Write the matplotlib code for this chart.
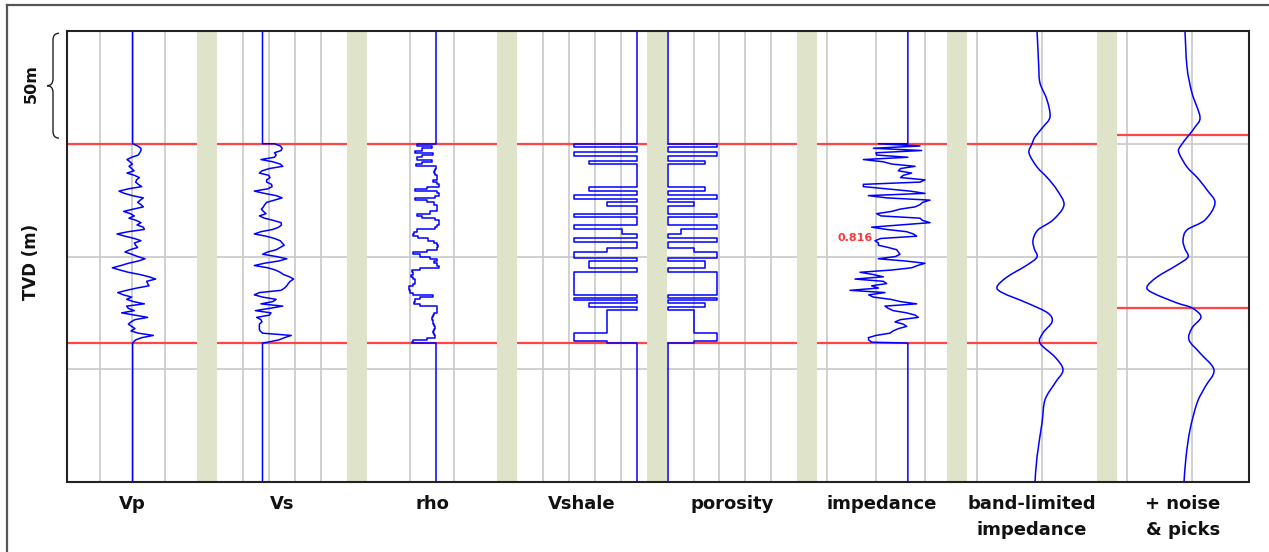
import matplotlib
matplotlib.use("Agg")
import matplotlib.pyplot as plt
import numpy as np
from matplotlib.patches import Rectangle, PathPatch
from matplotlib.path import Path
from matplotlib.lines import Line2D
import matplotlib.transforms as mtransforms

# ---- data ----
zone_top = 50.0
zone_base = 138.4
zone_depth = np.arange(50, 139, 1.0)   # 1 m samples in the reservoir zone

vp_base = 3010
vp = [3010, 3087, 3138, 3138, 3118, 3097, 2995, 2923, 2969, 3005,
      2954, 2995, 3031, 2923, 3036, 3113, 3072, 3056, 3097, 3149,
      2944, 2800, 2882, 3005, 3174, 3128, 3087, 3138, 3174, 3020,
      2872, 2974, 3036, 2954, 3067, 3138, 3077, 3174, 3190, 2944,
      2769, 2892, 3036, 3138, 3036, 3056, 3087, 2969, 2892, 2995,
      3087, 3200, 3097, 2944, 2831, 2697, 2815, 2944, 3123, 3262,
      3364, 3226, 3241, 3262, 3072, 2918, 2780, 2867, 2995, 2918,
      3020, 3190, 2918, 2944, 3036, 2841, 3046, 3241, 3046, 2985,
      2944, 2995, 3046, 2985, 3097, 3328, 3149, 3056, 3020]

vs_base = 1350
vs = [1442, 1488, 1501, 1493, 1442, 1455, 1442, 1338, 1429, 1486,
      1506, 1403, 1346, 1326, 1398, 1408, 1382, 1382, 1419, 1424,
      1390, 1287, 1364, 1455, 1501, 1442, 1382, 1367, 1357, 1341,
      1357, 1377, 1326, 1364, 1434, 1493, 1496, 1475, 1429, 1338,
      1287, 1377, 1442, 1486, 1501, 1517, 1486, 1455, 1390, 1351,
      1455, 1537, 1475, 1364, 1287, 1390, 1450, 1486, 1512, 1558,
      1589, 1563, 1548, 1537, 1519, 1493, 1326, 1287, 1351, 1455,
      1429, 1338, 1506, 1403, 1295, 1416, 1403, 1305, 1338, 1346,
      1326, 1326, 1326, 1331, 1351, 1571, 1519, 1475, 1390]

rho_base = 2.32
rho = [2.229, 2.298, 2.252, 2.221, 2.306, 2.252, 2.229, 2.298, 2.252, 2.226,
       2.318, 2.315, 2.309, 2.314, 2.325, 2.322, 2.306, 2.322, 2.334, 2.275,
       2.221, 2.322, 2.334, 2.314, 2.221, 2.275, 2.309, 2.322, 2.322, 2.322,
       2.291, 2.229, 2.252, 2.314, 2.334, 2.334, 2.325, 2.314, 2.229, 2.217,
       2.214, 2.237, 2.283, 2.309, 2.322, 2.329, 2.322, 2.275, 2.214, 2.245,
       2.291, 2.322, 2.309, 2.322, 2.334, 2.245, 2.206, 2.214, 2.202, 2.211,
       2.221, 2.221, 2.211, 2.195, 2.192, 2.198, 2.211, 2.306, 2.245, 2.221,
       2.217, 2.245, 2.322, 2.325, 2.322, 2.309, 2.303, 2.298, 2.303, 2.306,
       2.309, 2.314, 2.309, 2.306, 2.311, 2.314, 2.275, 2.214, 2.206]

# blocky layers for Vshale / porosity
layer_tops = [50.0, 51.5, 53.5, 55.5, 57.5, 59.0, 69.0, 70.8, 72.9, 74.5,
              76.0, 77.5, 81.0, 82.6, 86.0, 88.0, 90.0, 91.9, 93.5, 96.4,
              98.0, 100.8, 102.0, 105.2, 106.7, 117.1, 118.5, 119.5, 120.5,
              122.2, 123.7, 133.8, 137.3]
vsh_base = 0.92
vshale = [0.44, 0.92, 0.44, 0.92, 0.55, 0.92, 0.55, 0.92, 0.44, 0.92,
          0.69, 0.92, 0.44, 0.92, 0.44, 0.81, 0.92, 0.44, 0.92, 0.69,
          0.44, 0.92, 0.55, 0.92, 0.44, 0.92, 0.44, 0.92, 0.55,
          0.92, 0.69, 0.44, 0.69]
phi_base = 0.0
porosity = [0.19, 0.0, 0.19, 0.0, 0.145, 0.0, 0.145, 0.0, 0.19, 0.0,
            0.10, 0.0, 0.19, 0.0, 0.19, 0.05, 0.0, 0.19, 0.0, 0.10,
            0.19, 0.0, 0.145, 0.0, 0.19, 0.0, 0.19, 0.0, 0.145,
            0.0, 0.10, 0.19, 0.10]

imp_base = 7300
impedance = [6100, 7796, 5891, 7864, 6000, 6027, 7300, 5483, 6300, 6639,
             7592, 7000, 6912, 7456, 7116, 7000, 8000, 7800, 5483, 5483,
             6435, 7388, 8000, 5687, 6435, 8204, 7900, 7796, 7592, 6980,
             6639, 6027, 6200, 7796, 7900, 8204, 7000, 5823, 6435, 7252,
             7524, 7660, 6200, 5959, 6095, 6100, 6500, 6844, 6912, 6980,
             6800, 6095, 7200, 8000, 7700, 7456, 6639, 5347, 5891, 6299,
             5143, 6300, 6435, 5823, 6100, 4939, 6367, 5700, 5891, 6600,
             7000, 7660, 6367, 6500, 6700, 7252, 7600, 7728, 7000, 6776,
             7116, 7252, 6912, 6700, 6571, 6000, 5687, 5700, 5823]

bl_depth = [0, 8.4, 16, 23.1, 30.6, 38.1, 42.6, 47.0, 50.1, 54.1, 60.3, 65,
            70.5, 77.2, 83.8, 88.2, 92.7, 96.5, 100.2, 103.8, 109.1, 113.5,
            116.2, 120.6, 125.1, 129.0, 133.9, 138.4, 144.6, 150.3, 156.1,
            163.6, 173.8, 188.9, 200]
bl_imp = [6923, 6938, 6950, 6969, 7077, 7123, 7015, 6892, 6846, 6800, 6923,
          7080, 7231, 7338, 7169, 6938, 6862, 6880, 6923, 6769, 6462, 6308,
          6400, 6769, 7092, 7154, 7015, 6969, 7200, 7323, 7200, 7046, 7000,
          6923, 6892]

nz_depth = [0, 16, 27.5, 38.1, 42.6, 46.1, 51.4, 54.1, 60.3, 65, 70.5, 76.3,
            83.8, 88.2, 92.7, 96.5, 100.2, 103.8, 109.1, 113.5, 116.2, 120.6,
            122.8, 126.8, 131.7, 137, 142.8, 150.3, 157.9, 165, 176.9, 188.9, 200]
nz_imp = [6892, 6923, 7000, 7123, 7046, 6954, 6815, 6800, 6923, 7080, 7231,
          7354, 7200, 6923, 6862, 6890, 6938, 6769, 6462, 6308, 6400, 6769,
          7000, 7138, 7000, 6954, 7123, 7338, 7200, 7077, 6969, 6908, 6877]
picks = [46.1, 122.8]

labels = ["Vp", "Vs", "rho", "Vshale", "porosity", "impedance",
          "band-limited\nimpedance", "+ noise\n& picks"]
xlims = [(2000, 4000), (1000, 2000), (2.0, 2.6), (0.0, 1.0), (-0.003, 0.5),
         (3592, 8898), (5846, 7846), (5846, 7877)]
xticks = [[2500, 3000, 3500], [1200, 1400, 1600, 1800], [2.2, 2.4],
          [0.2, 0.4, 0.6, 0.8], [0.1, 0.2, 0.3, 0.4], [4000, 6000, 8000],
          [6000, 7000], [6000, 7000]]

max_depth = 200
grid_depths = [50, 100, 150]

BLUE = "#0000ff"
RED = "#ff4545"
GRID = "#c8c8c8"
BAND = "#dfe3c9"


def full_log(base, zone_vals):
    d = np.concatenate([[0, zone_top], zone_depth, [zone_base, max_depth]])
    v = np.concatenate([[base, base], zone_vals, [base, base]])
    return v, d


def step_log(base, zone_vals):
    # each 1 m sample holds over its own depth cell
    edges = np.append(zone_depth, zone_base)
    d = np.column_stack([edges[:-1], edges[1:]]).ravel()
    v = np.repeat(zone_vals, 2)
    d = np.concatenate([[0, zone_top], d, [zone_base, max_depth]])
    v = np.concatenate([[base, base], v, [base, base]])
    return v, d


def blocky_log(base, vals):
    tops = np.array(layer_tops)
    bots = np.append(tops[1:], zone_base)
    d = np.column_stack([tops, bots]).ravel()
    v = np.repeat(vals, 2)
    d = np.concatenate([[0, zone_top], d, [zone_base, max_depth]])
    v = np.concatenate([[base, base], v, [base, base]])
    return v, d


def smooth_path(xs, ys):
    # Catmull-Rom drawn as cubic Bezier segments through the read points
    pts = np.column_stack([xs, ys]).astype(float)
    verts = [pts[0]]
    codes = [Path.MOVETO]
    n = len(pts)
    for i in range(n - 1):
        p0 = pts[max(i - 1, 0)]
        p1 = pts[i]
        p2 = pts[i + 1]
        p3 = pts[min(i + 2, n - 1)]
        verts += [p1 + (p2 - p0) / 6, p2 - (p3 - p1) / 6, p2]
        codes += [Path.CURVE4] * 3
    return Path(verts, codes)


W, H = 1269, 552
fig = plt.figure(figsize=(W / 100, H / 100), dpi=100)

top_px, bot_px = 31, 482
ax_left0 = 67
widths = [130] * 7 + [132]
axes = []
for i in range(8):
    left = ax_left0 + 150 * i
    ax = fig.add_axes([left / W, 1 - bot_px / H, widths[i] / W, (bot_px - top_px) / H])
    ax.set_xlim(*xlims[i])
    ax.set_ylim(max_depth, 0)
    ax.set_xticks(xticks[i])
    ax.set_yticks(grid_depths)
    ax.tick_params(length=0, labelbottom=False, labelleft=False)
    ax.grid(True, color=GRID, lw=1.2)
    ax.set_axisbelow(True)
    for s in ax.spines.values():
        s.set_visible(False)
    ax.text(0.5, -13 / (bot_px - top_px), labels[i], transform=ax.transAxes,
            ha="center", va="top", fontsize=13, fontweight="bold",
            linespacing=1.55, color="#111111")
    axes.append(ax)

# bands between tracks
for i in range(7):
    p0 = axes[i].get_position()
    p1 = axes[i + 1].get_position()
    fig.add_artist(Rectangle((p0.x1, p0.y0), p1.x0 - p0.x1, p0.height,
                             transform=fig.transFigure, facecolor=BAND,
                             edgecolor="none", zorder=0.5))

# zone markers
for ax in axes[:7]:
    ax.axhline(zone_top, color=RED, lw=1.6, zorder=3)
    ax.axhline(zone_base, color=RED, lw=1.6, zorder=3)
for p in picks:
    axes[7].axhline(p, color=RED, lw=1.6, zorder=3)

# curves
lw = 1.1
v, d = full_log(vp_base, vp)
axes[0].plot(v, d, color=BLUE, lw=lw, zorder=4)
v, d = full_log(vs_base, vs)
axes[1].plot(v, d, color=BLUE, lw=lw, zorder=4)
v, d = step_log(rho_base, rho)
axes[2].plot(v, d, color=BLUE, lw=lw, zorder=4)
v, d = blocky_log(vsh_base, vshale)
axes[3].plot(v, d, color=BLUE, lw=lw, zorder=4)
v, d = blocky_log(phi_base, porosity)
axes[4].plot(v, d, color=BLUE, lw=lw, zorder=4, clip_on=False)
v, d = full_log(imp_base, impedance)
axes[5].plot(v, d, color=BLUE, lw=lw, zorder=4)
axes[6].add_patch(PathPatch(smooth_path(bl_imp, bl_depth), facecolor="none",
                            edgecolor=BLUE, lw=lw, zorder=4))
axes[7].add_patch(PathPatch(smooth_path(nz_imp, nz_depth), facecolor="none",
                            edgecolor=BLUE, lw=lw, zorder=4))

axes[5].text(5878, 91.8, "0.816", color="#ff3535", fontsize=8,
             fontweight="bold", ha="right", va="center", zorder=5)

# plot frame
p0 = axes[0].get_position()
p7 = axes[7].get_position()
fig.add_artist(Rectangle((p0.x0, p0.y0), p7.x1 - p0.x0, p0.height,
                         transform=fig.transFigure, facecolor="none",
                         edgecolor="#222222", lw=1.5, zorder=10))

# outer border (top and left only visible)
fig.add_artist(Line2D([7 / W, 1], [1 - 5 / H, 1 - 5 / H], color="#555555",
                      lw=1.6, transform=fig.transFigure))
fig.add_artist(Line2D([7 / W, 7 / W], [0, 1 - 5 / H], color="#555555",
                      lw=1.6, transform=fig.transFigure))

# depth label and 50 m brace
fig.text(31 / W, 1 - 262 / H, "TVD (m)", rotation=90, ha="center", va="center",
         fontsize=12, fontweight="bold", color="#111111")
fig.text(31 / W, 1 - 84 / H, "50m", rotation=90, ha="center", va="center",
         fontsize=11.5, fontweight="bold", color="#111111")

trans = mtransforms.blended_transform_factory(fig.transFigure, axes[0].transData)
xr, xm, xt = 59 / W, 53 / W, 47 / W
y0, y1 = 1.0, 47.5
ym = (y0 + y1) / 2
verts = [(xr, y0), (xm, y0), (xm, y0 + 3),
         (xm, ym - 3),
         (xm, ym), (xt, ym),
         (xm, ym), (xm, ym + 3),
         (xm, y1 - 3),
         (xm, y1), (xr, y1)]
codes = [Path.MOVETO, Path.CURVE3, Path.CURVE3,
         Path.LINETO,
         Path.CURVE3, Path.CURVE3,
         Path.CURVE3, Path.CURVE3,
         Path.LINETO,
         Path.CURVE3, Path.CURVE3]
fig.add_artist(PathPatch(Path(verts, codes), transform=trans, facecolor="none",
                         edgecolor="#222222", lw=1.0))

fig.savefig("out.png", dpi=100, facecolor="white")
